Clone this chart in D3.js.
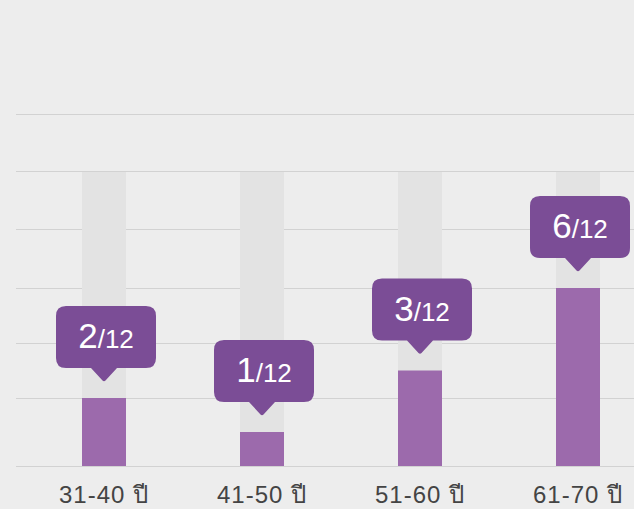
<!DOCTYPE html>
<html>
<head>
<meta charset="utf-8">
<script src="https://cdn.jsdelivr.net/npm/d3@7"></script>
<style>
  html, body { margin: 0; padding: 0; background: #ededed; }
  svg { display: block; font-family: "Liberation Sans", Arial, "Noto Sans", sans-serif; }
</style>
</head>
<body>
<svg id="chart"></svg>
<script>
// age groups and counts (out of 12)
const categories = ['31-40 ปี', '41-50 ปี', '51-60 ปี', '61-70 ปี'];
const counts = [2, 1, 3, 6];
const total = 12;
const gridValues = [0, 2, 4, 6, 8, 10, 12];
const trackValue = 10;

const width = 634, height = 509;

const svg = d3.select('#chart')
  .attr('width', width)
  .attr('height', height);

// x positions of the columns
const xScale = d3.scalePoint()
  .domain(categories)
  .range([104, 578]);

// the gridlines are not evenly spaced in the original, so piecewise range
const yScale = d3.scaleLinear()
  .domain(gridValues)
  .range([466, 398, 343, 288, 229, 171, 114]);

const barWidth = 44;

// gridlines
svg.append('g')
  .selectAll('line')
  .data(gridValues)
  .join('line')
  .attr('x1', 16)
  .attr('x2', width)
  .attr('y1', d => yScale(d) + 0.5)
  .attr('y2', d => yScale(d) + 0.5)
  .attr('stroke', '#d2d2d2')
  .attr('stroke-width', 1);

// background tracks
svg.append('g')
  .selectAll('rect')
  .data(categories)
  .join('rect')
  .attr('x', d => xScale(d) - barWidth / 2)
  .attr('y', yScale(trackValue) + 1)
  .attr('width', barWidth)
  .attr('height', yScale(0) - yScale(trackValue) - 1)
  .attr('fill', '#e3e3e3');

// bars
svg.append('g')
  .selectAll('rect')
  .data(counts)
  .join('rect')
  .attr('x', (d, i) => xScale(categories[i]) - barWidth / 2)
  .attr('y', d => yScale(d))
  .attr('width', barWidth)
  .attr('height', d => yScale(0) - yScale(d))
  .attr('fill', '#9c6aac');

// callouts
const boxW = 100, boxH = 62, r = 10;
const callouts = svg.append('g')
  .selectAll('g')
  .data(counts)
  .join('g')
  .attr('transform', (d, i) => `translate(${xScale(categories[i])},${yScale(d)})`);

callouts.append('path')
  .attr('fill', '#7b4d96')
  .attr('d', () => {
    const left = -boxW / 2 + 2, right = boxW / 2 + 2;
    const bottom = -30, top = bottom - boxH;
    return `M${left + r},${top}H${right - r}Q${right},${top} ${right},${top + r}` +
      `V${bottom - r}Q${right},${bottom} ${right - r},${bottom}` +
      `H13L1.5,-17.5Q0,-16 -1.5,-17.5L-13,${bottom}` +
      `H${left + r}Q${left},${bottom} ${left},${bottom - r}` +
      `V${top + r}Q${left},${top} ${left + r},${top}Z`;
  });

const label = callouts.append('text')
  .attr('x', 2)
  .attr('y', -50)
  .attr('text-anchor', 'middle')
  .attr('fill', '#ffffff');

label.append('tspan')
  .attr('font-size', 35)
  .text(d => d);

label.append('tspan')
  .attr('font-size', 26)
  .text('/' + total);

// category labels
svg.append('g')
  .selectAll('text')
  .data(categories)
  .join('text')
  .attr('x', d => xScale(d))
  .attr('y', 503)
  .attr('text-anchor', 'middle')
  .attr('font-size', 24)
  .attr('letter-spacing', 1)
  .attr('fill', '#444444')
  .text(d => d);
</script>
</body>
</html>
